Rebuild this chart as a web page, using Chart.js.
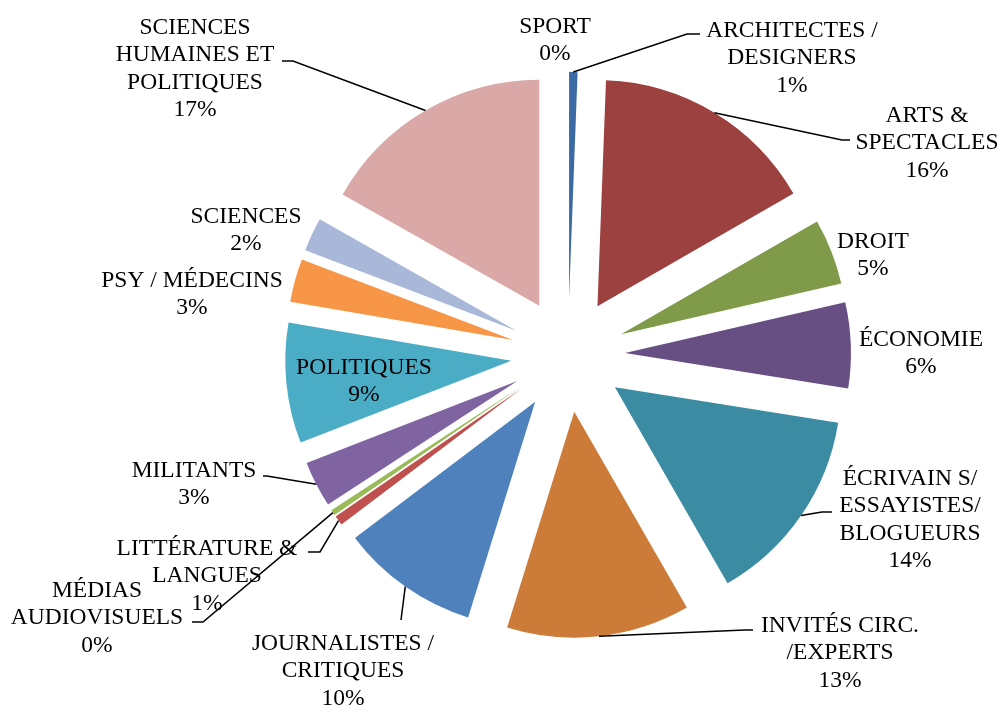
<!DOCTYPE html>
<html lang="fr">
<head>
<meta charset="utf-8">
<script src="https://cdn.jsdelivr.net/npm/chart.js@4.4.1/dist/chart.umd.min.js"></script>
<style>
    html, body { margin: 0; padding: 0; background: #ffffff; }
</style>
</head>
<body>
<canvas id="graficoPie" width="1006" height="708"></canvas>
<script>
// Catégories (dans l'ordre des parts, sens horaire depuis midi)
const categorias = [
    ['ARCHITECTES /', 'DESIGNERS'],
    ['ARTS &', 'SPECTACLES'],
    ['DROIT'],
    ['ÉCONOMIE'],
    ['ÉCRIVAIN S/', 'ESSAYISTES/', 'BLOGUEURS'],
    ['INVITÉS CIRC.', '/EXPERTS'],
    ['JOURNALISTES /', 'CRITIQUES'],
    ['LITTÉRATURE &', 'LANGUES'],
    ['MÉDIAS', 'AUDIOVISUELS'],
    ['MILITANTS'],
    ['POLITIQUES'],
    ['PSY / MÉDECINS'],
    ['SCIENCES'],
    ['SCIENCES', 'HUMAINES ET', 'POLITIQUES'],
    ['SPORT']
];

// Parts (%)
const valores = [0.6, 16.1, 4.7, 6.1, 14.2, 13.1, 9.9, 0.7, 0.4, 3.3, 8.6, 3.1, 2.4, 16.8, 0];

// Couleurs des parts
const cores = [
    '#3C6AA5', '#9C413F', '#7F9A48', '#674F84', '#3B8CA3', '#CC7B38',
    '#4F81BD', '#C0504D', '#9BBB59', '#8064A2', '#4BACC6', '#F79646',
    '#A9B8D8', '#D9A8A7', '#C3D69B'
];

// Position des étiquettes : centre du texte, première ligne de base, et coude du trait de rappel
const rotulos = [
    { x: 792, y: 37,  traco: [[687, 34], [700, 34]] },
    { x: 927, y: 122, traco: [[842, 140], [850, 140]] },
    { x: 873, y: 248, traco: null },
    { x: 921, y: 346, traco: null },
    { x: 910, y: 485, traco: [[822, 512], [832, 512]] },
    { x: 840, y: 632, traco: [[745, 630], [753, 630]] },
    { x: 343, y: 650, traco: [[401, 620]] },
    { x: 207, y: 555, traco: [[320, 552], [308, 552]] },
    { x: 97,  y: 597, traco: [[203, 622], [192, 622]] },
    { x: 194, y: 477, traco: [[267, 476], [263, 476]] },
    { x: 364, y: 374, traco: null },
    { x: 192, y: 287, traco: null },
    { x: 246, y: 223, traco: null },
    { x: 195, y: 34,  traco: [[293, 61], [282, 61]] },
    { x: 555, y: 33,  traco: null }
];

const deslocamento = 57;   // éclatement des parts (px)
const alturaLinha = 27.3;

// Éclate chaque part le long de son angle médian
const explodirFatias = {
    id: 'explodirFatias',
    beforeDatasetsDraw(chart) {
        const area = chart.chartArea;
        const cx = (area.left + area.right) / 2;
        const cy = (area.top + area.bottom) / 2;
        chart.getDatasetMeta(0).data.forEach(arc => {
            const meio = (arc.startAngle + arc.endAngle) / 2;
            arc.x = cx + Math.cos(meio) * deslocamento;
            arc.y = cy + Math.sin(meio) * deslocamento;
        });
    }
};

// Étiquettes et traits de rappel
const etiquetas = {
    id: 'etiquetas',
    afterDatasetsDraw(chart) {
        const ctx = chart.ctx;
        const arcs = chart.getDatasetMeta(0).data;
        const total = valores.reduce((a, b) => a + b, 0);
        ctx.save();
        ctx.strokeStyle = '#000000';
        ctx.lineWidth = 1.5;
        arcs.forEach((arc, i) => {
            const r = rotulos[i];
            if (r.traco) {
                const meio = (arc.startAngle + arc.endAngle) / 2;
                ctx.beginPath();
                ctx.moveTo(arc.x + Math.cos(meio) * arc.outerRadius, arc.y + Math.sin(meio) * arc.outerRadius);
                r.traco.forEach(p => ctx.lineTo(p[0], p[1]));
                ctx.stroke();
            }
        });
        ctx.fillStyle = '#000000';
        ctx.font = '23.5px "Liberation Serif", "Times New Roman", serif';
        ctx.textAlign = 'center';
        ctx.textBaseline = 'alphabetic';
        categorias.forEach((linhas, i) => {
            const r = rotulos[i];
            const texto = linhas.concat([Math.round(valores[i] / total * 100) + '%']);
            texto.forEach((t, k) => ctx.fillText(t, r.x, r.y + k * alturaLinha));
        });
        ctx.restore();
    }
};

const ctx = document.getElementById('graficoPie').getContext('2d');
new Chart(ctx, {
    type: 'pie',
    data: {
        labels: categorias,
        datasets: [{
            data: valores,
            backgroundColor: cores,
            borderWidth: 0
        }]
    },
    options: {
        responsive: false,
        animation: false,
        events: [],
        radius: 226,
        layout: {
            padding: { left: 130, right: 0, top: 2, bottom: 0 }
        },
        plugins: {
            legend: { display: false },
            tooltip: { enabled: false }
        }
    },
    plugins: [explodirFatias, etiquetas]
});
</script>
</body>
</html>
